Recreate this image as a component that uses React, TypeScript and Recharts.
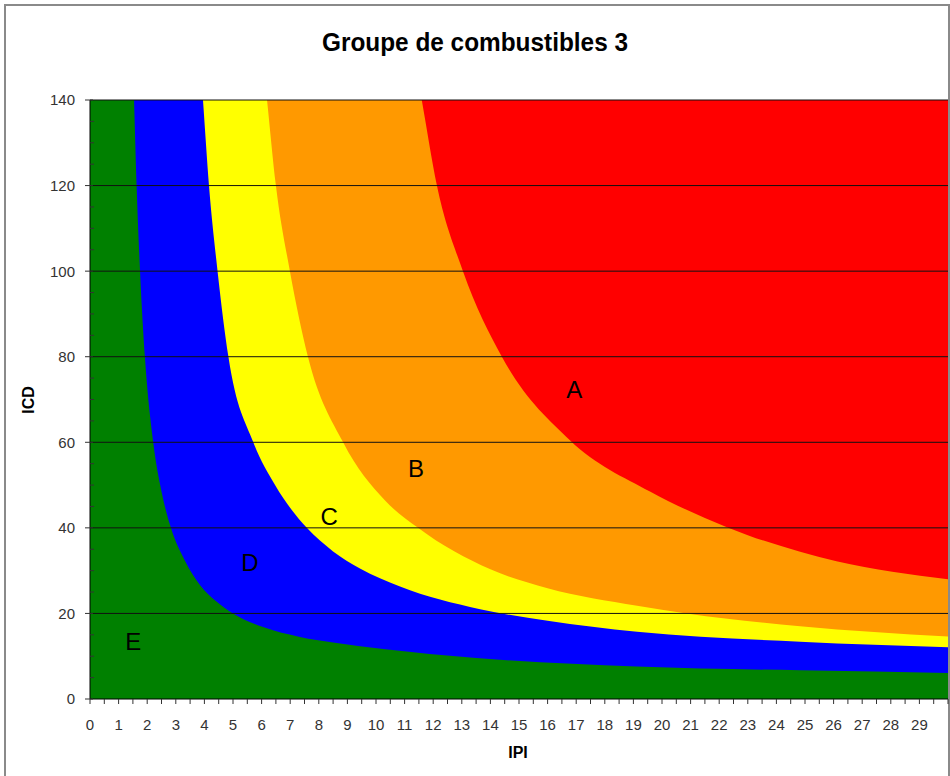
import React from 'react';
import { ComposedChart, Area, XAxis, YAxis, ReferenceLine, Scatter } from 'recharts';

const chartTitle = 'Groupe de combustibles 3';
const xAxisTitle = 'IPI';
const yAxisTitle = 'ICD';

const xTicks = [0, 0.5, 1, 1.5, 2, 2.5, 3, 3.5, 4, 4.5, 5, 5.5, 6, 6.5, 7, 7.5, 8, 8.5, 9, 9.5, 10, 10.5, 11, 11.5, 12, 12.5, 13, 13.5, 14, 14.5, 15, 15.5, 16, 16.5, 17, 17.5, 18, 18.5, 19, 19.5, 20, 20.5, 21, 21.5, 22, 22.5, 23, 23.5, 24, 24.5, 25, 25.5, 26, 26.5, 27, 27.5, 28, 28.5, 29, 29.5, 30];
const xLabelValues = [0, 1, 2, 3, 4, 5, 6, 7, 8, 9, 10, 11, 12, 13, 14, 15, 16, 17, 18, 19, 20, 21, 22, 23, 24, 25, 26, 27, 28, 29];
const yTicks = [0, 5, 10, 15, 20, 25, 30, 35, 40, 45, 50, 55, 60, 65, 70, 75, 80, 85, 90, 95, 100, 105, 110, 115, 120, 125, 130, 135, 140];
const yLabelValues = [0, 20, 40, 60, 80, 100, 120, 140];
const gridValues = [20, 40, 60, 80, 100, 120, 140];

// Zone A (red) fills everything up to the top
const redX = [0, 30];
const redY = [140, 140];
// Upper edge of zone B (orange)
const orangeX = [0, 11.6, 12.13, 13.04, 14.4, 16.78, 19.58, 21.5, 23.0, 24.83, 26.1, 30];
const orangeY = [140, 140, 120, 100, 80, 60.5, 48.5, 42.3, 38.3, 34.4, 32.2, 28.0];
// Upper edge of zone C (yellow)
const yellowX = [0, 6.19, 6.5, 6.99, 7.62, 8.85, 10.3, 11.47, 14.0, 16.0, 19.13, 20.86, 24.83, 30];
const yellowY = [140, 140, 120, 100, 80, 60, 46.5, 40, 30.3, 25.9, 21.8, 20, 17.0, 14.6];
// Upper edge of zone D (blue)
const blueX = [0, 3.95, 4.16, 4.46, 4.84, 5.71, 6.47, 7.58, 8.5, 9.44, 10.84, 13.64, 16.0, 19.13, 24.83, 30];
const blueY = [140, 140, 120, 100, 80, 60, 50.0, 40, 34.5, 30.5, 26.3, 21.0, 18.3, 15.7, 13.4, 12.1];
// Upper edge of zone E (green)
const greenX = [0, 1.54, 1.63, 1.75, 1.92, 2.21, 2.5, 2.83, 3.32, 3.85, 4.4, 5.0, 6.05, 7.34, 8.5, 10.25, 13.5, 19.1, 24.83, 30];
const greenY = [140, 140, 120, 100, 80, 60, 48.5, 40, 32.3, 26.6, 22.9, 20, 16.8, 14.5, 13.2, 11.7, 9.6, 7.6, 6.7, 6.1];

const zoneLabels = ['A', 'B', 'C', 'D', 'E'];
const zoneLabelX = [16.93, 11.4, 8.36, 5.59, 1.51];
const zoneLabelY = [72.4, 53.9, 42.6, 32.0, 13.4];

const series = [
  { key: 'A', xs: redX, ys: redY, color: '#ff0000' },
  { key: 'B', xs: orangeX, ys: orangeY, color: '#ff9900' },
  { key: 'C', xs: yellowX, ys: yellowY, color: '#ffff00' },
  { key: 'D', xs: blueX, ys: blueY, color: '#0000ff' },
  { key: 'E', xs: greenX, ys: greenY, color: '#008000' },
];

const allX = Array.from(new Set(series.flatMap((s) => s.xs))).sort((a, b) => a - b);
const rows = allX.map((x) => {
  const row: any = { x };
  series.forEach((s) => {
    const i = s.xs.indexOf(x);
    if (i >= 0) row[s.key] = s.ys[i];
  });
  return row;
});

const labelData = zoneLabels.map((label, i) => ({ label, x: zoneLabelX[i], y: zoneLabelY[i] }));

// Monotone cubic curve (as in d3 monotoneX) whose tangent at a corner
// between a flat run and a sloped run follows the sloped side.
function sgn(v: number) {
  return v < 0 ? -1 : 1;
}
function slope3(that: any, x2: number, y2: number) {
  const h0 = that._x1 - that._x0;
  const h1 = x2 - that._x1;
  const s0 = (that._y1 - that._y0) / (h0 || ((h1 < 0 && -0) as any));
  const s1 = (y2 - that._y1) / (h1 || ((h0 < 0 && -0) as any));
  if (s0 === 0 && s1 !== 0 && isFinite(s1)) return s1;
  if (s1 === 0 && s0 !== 0 && isFinite(s0)) return s0;
  const p = (s0 * h1 + s1 * h0) / (h0 + h1);
  return (sgn(s0) + sgn(s1)) * Math.min(Math.abs(s0), Math.abs(s1), 0.5 * Math.abs(p)) || 0;
}
function slope2(that: any, t: number) {
  const h = that._x1 - that._x0;
  return h ? (3 * (that._y1 - that._y0) / h - t) / 2 : t;
}
function bez(that: any, t0: number, t1: number) {
  const x0 = that._x0, y0 = that._y0, x1 = that._x1, y1 = that._y1;
  const dx = (x1 - x0) / 3;
  that._context.bezierCurveTo(x0 + dx, y0 + dx * t0, x1 - dx, y1 - dx * t1, x1, y1);
}
class CornerMonotone {
  _context: any;
  _line: number = 0;
  _point: number = 0;
  _x0: number = NaN;
  _x1: number = NaN;
  _y0: number = NaN;
  _y1: number = NaN;
  _t0: number = NaN;
  constructor(context: any) {
    this._context = context;
  }
  areaStart() {
    this._line = 0;
  }
  areaEnd() {
    this._line = NaN;
  }
  lineStart() {
    this._x0 = this._x1 = this._y0 = this._y1 = this._t0 = NaN;
    this._point = 0;
  }
  lineEnd() {
    switch (this._point) {
      case 2:
        this._context.lineTo(this._x1, this._y1);
        break;
      case 3:
        bez(this, this._t0, slope2(this, this._t0));
        break;
    }
    if (this._line || (this._line !== 0 && this._point === 1)) this._context.closePath();
    this._line = 1 - this._line;
  }
  point(xIn: number, yIn: number) {
    let t1 = NaN;
    const x = +xIn;
    const y = +yIn;
    if (x === this._x1 && y === this._y1) return;
    switch (this._point) {
      case 0:
        this._point = 1;
        if (this._line) this._context.lineTo(x, y);
        else this._context.moveTo(x, y);
        break;
      case 1:
        this._point = 2;
        break;
      case 2:
        this._point = 3;
        t1 = slope3(this, x, y);
        bez(this, slope2(this, t1), t1);
        break;
      default:
        t1 = slope3(this, x, y);
        bez(this, this._t0, t1);
        break;
    }
    this._x0 = this._x1;
    this._x1 = x;
    this._y0 = this._y1;
    this._y1 = y;
    this._t0 = t1;
  }
}
const cornerMonotone = (context: any) => new CornerMonotone(context);

const tickFont = "'Liberation Sans', Arial, sans-serif";

const XTick = (props: any) => {
  const { x, y, payload } = props;
  const v = payload.value;
  const showLabel = xLabelValues.includes(v);
  return (
    <g>
      <line x1={x} y1={y} x2={x} y2={y + 5} stroke="#333" strokeWidth={1} />
      {showLabel && (
        <text x={x} y={y + 31} textAnchor="middle" fontSize={15} fontFamily={tickFont} fill="#333">
          {v}
        </text>
      )}
    </g>
  );
};

const YTick = (props: any) => {
  const { x, y, payload } = props;
  const v = payload.value;
  const major = yLabelValues.includes(v);
  return (
    <g>
      {major ? (
        <line x1={x - 5} y1={y} x2={x + 3} y2={y} stroke="#333" strokeWidth={1} />
      ) : (
        <line x1={x} y1={y} x2={x + 4} y2={y} stroke="#333" strokeWidth={1} />
      )}
      {major && (
        <text x={x - 15} y={y} dy="0.36em" textAnchor="end" fontSize={15} fontFamily={tickFont} fill="#333">
          {v}
        </text>
      )}
    </g>
  );
};

const ZoneLetter = (props: any) => {
  const { cx, cy, payload } = props;
  return (
    <text x={cx} y={cy} dy="0.36em" textAnchor="middle" fontSize={24} fontFamily={tickFont} fill="#000">
      {payload.label}
    </text>
  );
};

export default function App() {
  return (
    <div style={{ position: 'absolute', left: 0, top: 0, width: 950, height: 776, background: '#fff', overflow: 'hidden' }}>
      <div
        style={{
          position: 'absolute',
          left: 4,
          top: 4,
          width: 946,
          height: 820,
          boxSizing: 'border-box',
          border: '2px solid #8a8a8a',
        }}
      />
      <div style={{ position: 'absolute', left: 0, top: 0 }}>
        <ComposedChart width={950} height={776} data={rows} margin={{ top: 100, right: 2, left: 0, bottom: 0 }}>
          <XAxis
            type="number"
            dataKey="x"
            domain={[0, 30]}
            ticks={xTicks}
            interval={0}
            tickSize={0}
            tickMargin={0}
            tickLine={false}
            tick={<XTick />}
            height={77}
            axisLine={{ stroke: '#000' }}
            allowDataOverflow
          />
          <YAxis
            type="number"
            domain={[0, 140]}
            ticks={yTicks}
            interval={0}
            width={90}
            tickSize={0}
            tickMargin={0}
            tickLine={false}
            tick={<YTick />}
            axisLine={{ stroke: '#000' }}
            allowDataOverflow
          />
          {series.map((s) => (
            <Area
              key={s.key}
              dataKey={s.key}
              type={cornerMonotone as any}
              fill={s.color}
              fillOpacity={1}
              stroke="none"
              connectNulls
              dot={false}
              activeDot={false}
              isAnimationActive={false}
            />
          ))}
          {gridValues.map((g) => (
            <ReferenceLine key={g} y={g} stroke="#111" strokeWidth={1} />
          ))}
          <Scatter data={labelData} dataKey="y" shape={<ZoneLetter />} isAnimationActive={false} />
        </ComposedChart>
      </div>
      <svg width={950} height={776} style={{ position: 'absolute', left: 0, top: 0, pointerEvents: 'none' }}>
        <text
          x={475}
          y={51}
          textAnchor="middle"
          fontSize={25}
          fontWeight="bold"
          fontFamily={tickFont}
          fill="#000"
          textLength={306}
          lengthAdjust="spacingAndGlyphs"
        >
          {chartTitle}
        </text>
        <text
          x={34}
          y={400}
          textAnchor="middle"
          fontSize={16}
          fontWeight="bold"
          fontFamily={tickFont}
          fill="#000"
          transform="rotate(-90 34 400)"
        >
          {yAxisTitle}
        </text>
        <text x={518} y={758} textAnchor="middle" fontSize={16} fontWeight="bold" fontFamily={tickFont} fill="#000">
          {xAxisTitle}
        </text>
      </svg>
    </div>
  );
}
